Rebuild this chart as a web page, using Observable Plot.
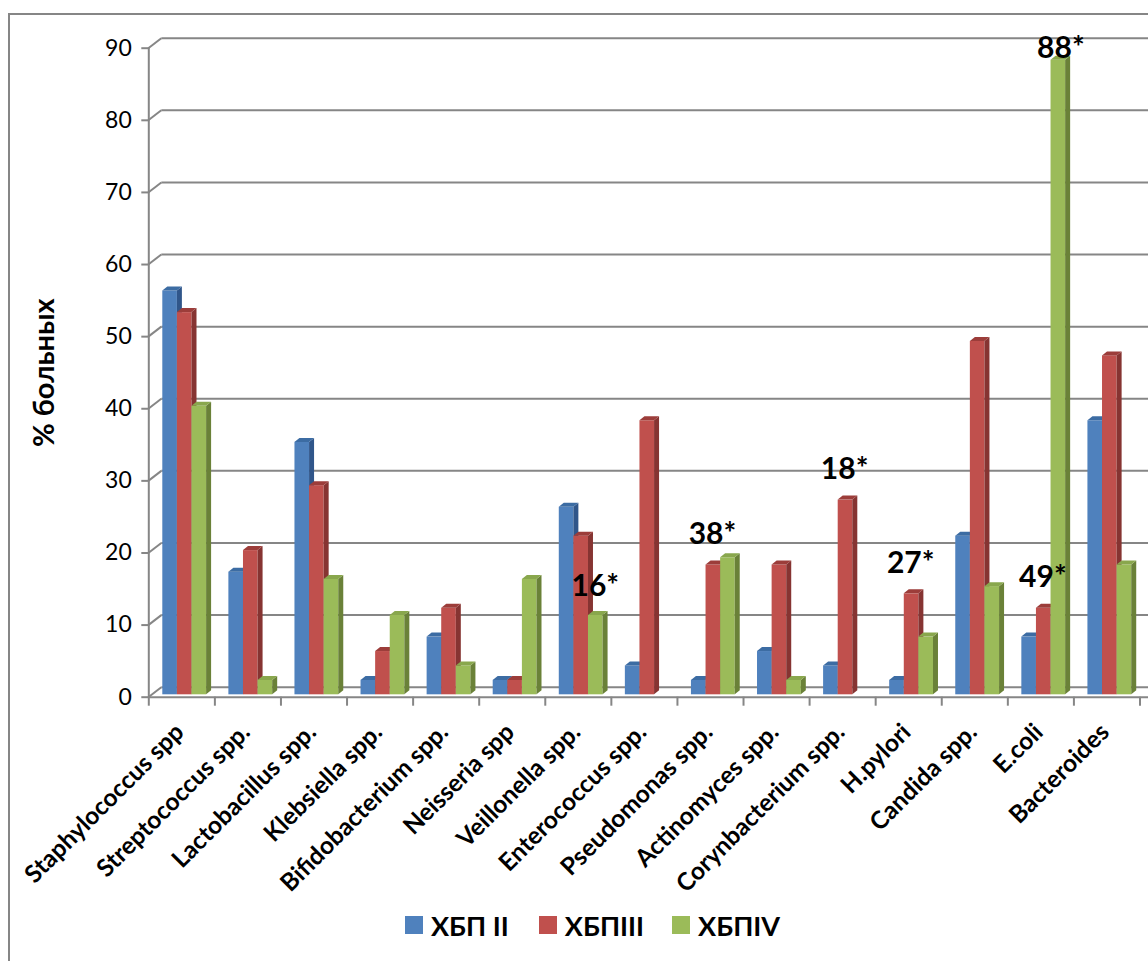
<!DOCTYPE html>
<html><head><meta charset="utf-8">
<script src="https://cdn.jsdelivr.net/npm/d3@7"></script>
<script src="https://cdn.jsdelivr.net/npm/@observablehq/plot@0.6"></script>
<style>
html,body{margin:0;padding:0;background:#fff;overflow:hidden}
#page{position:relative;width:1148px;height:961px;overflow:hidden}
#border{position:absolute;left:8px;top:13px;right:-10px;bottom:-10px;border:2px solid #868686}
#chart{position:absolute;left:0;top:0}
#chart svg{display:block;background:transparent}
#legend{position:absolute;left:405px;top:907px;display:flex;align-items:center;height:36px;font:bold 27px Lato,"Open Sans",sans-serif;color:#000}
#legend span.sw{display:inline-block;width:18px;height:18px;margin-right:8px}
#legend span.lb{display:inline-block}
</style></head><body>
<div id="page"><div id="border"></div><div id="chart"></div><div id="legend"></div></div>
<script>
const categories = ["Staphylococcus spp","Streptococcus spp.","Lactobacillus spp.","Klebsiella spp.","Bifidobacterium spp.","Neisseria spp","Veillonella spp.","Enterococcus spp.","Pseudomonas spp.","Actinomyces spp.","Corynbacterium spp.","H.pylori","Candida spp.","E.coli","Bacteroides"];
const seriesNames = ["ХБП II","ХБПIII","ХБПIV"];
const hbp2 = [56,17,35,2,8,2,26,4,2,6,4,2,22,8,38];
const hbp3 = [53,20,29,6,12,2,22,38,18,18,27,14,49,12,47];
const hbp4 = [40,2,16,11,4,16,11,null,19,2,null,8,15,88,18];
const yTicks = [0,10,20,30,40,50,60,70,80,90];
const seriesColors = ["#4F81BD","#C0504D","#9BBB59"];
const sideColors = ["#30568A","#863432","#6A8138"];
const topColors = ["#3C6CA3","#9C3D3A","#89A74D"];
const noteCategories = ["Veillonella spp.","Pseudomonas spp.","Corynbacterium spp.","H.pylori","E.coli","E.coli"];
const noteTexts = ["16*","38*","18*","27*","49*","88*"];
const noteLevels = [15.35,22.6,31.6,18.5,16.6,90];
const noteShifts = [17,2,2,2,2,20];

const grey = "#868686";
const wallX = 13, wallY = -10, band = 66.08, depthX = 5, depthY = -4;

function table(values){ return categories.map((c,i)=>({c, v:values[i]})).filter(d=>d.v!=null); }

function extrude(s){
  return (index, scales, values, dims, ctx, next)=>{
    const g = next(index, scales, values, dims, ctx);
    g.querySelectorAll("rect").forEach(r=>{
      const x=+r.getAttribute("x"), y=+r.getAttribute("y"), w=+r.getAttribute("width"), h=+r.getAttribute("height");
      const add=(pts,fill)=>{
        const p=document.createElementNS("http://www.w3.org/2000/svg","polygon");
        p.setAttribute("points",pts.map(q=>q.join(",")).join(" "));
        p.setAttribute("fill",fill);
        r.parentNode.appendChild(p);
      };
      add([[x+w,y],[x+w+depthX,y+depthY],[x+w+depthX,y+h+depthY],[x+w,y+h]],sideColors[s]);
      add([[x,y],[x+depthX,y+depthY],[x+w+depthX,y+depthY],[x+w,y]],topColors[s]);
    });
    return g;
  };
}

function slants(index, scales, values, dims, ctx, next){
  const g = next(index, scales, values, dims, ctx);
  const ns="http://www.w3.org/2000/svg";
  g.querySelectorAll("line").forEach(l=>{
    const y=+l.getAttribute("y1"), x=+l.getAttribute("x1");
    const s=document.createElementNS(ns,"line");
    s.setAttribute("x1",x-wallX); s.setAttribute("x2",x);
    s.setAttribute("y1",y-wallY); s.setAttribute("y2",y);
    l.parentNode.appendChild(s);
  });
  return g;
}

const seriesMark = (values,s)=>Plot.barY(table(values),{
  x:"c", y:"v", fill:seriesColors[s], dy:-2.4,
  insetLeft:14+s*14.6, insetRight:band-14-14.6*(s+1),
  render:extrude(s)
});

const noteMark = (i)=>Plot.text([i],{
  x:j=>noteCategories[j], y:j=>noteLevels[j], text:j=>noteTexts[j],
  dx:noteShifts[i], fontSize:30, fontWeight:"bold", fill:"#000", stroke:null
});

const chart = Plot.plot({
  width:1148, height:905,
  marginLeft:148.3, marginRight:0, marginTop:47.7, marginBottom:208.3,
  style:{fontFamily:'Lato,"Open Sans",sans-serif',background:"transparent",color:"#000"},
  x:{type:"band",domain:categories,range:[148.3,1139.5],padding:0,round:false,label:null},
  y:{domain:[0,90],range:[696.7,47.7],label:null},
  marks:[
    Plot.ruleY(yTicks,{stroke:grey,strokeWidth:2,dx:wallX,dy:wallY,render:slants}),
    Plot.ruleY([0],{stroke:grey,strokeWidth:2}),
    Plot.ruleX([categories[0]],{x:d=>d,dx:-band/2,y1:0,y2:90,stroke:grey,strokeWidth:2}),
    Plot.axisY({ticks:yTicks,tickSize:7,tickPadding:10,fontSize:23,label:null,stroke:grey,strokeWidth:2,color:"#000",tickFormat:d=>d,textStroke:null}),
    Plot.axisX({tickSize:9,tickPadding:0,dx:-band/2,tickFormat:()=>"",label:null,stroke:grey,strokeWidth:2}),
    Plot.axisX({ticks:[categories[categories.length-1]],tickSize:9,tickPadding:0,dx:band/2,tickFormat:()=>"",label:null,stroke:grey,strokeWidth:2}),
    Plot.axisX({tickSize:0,tickPadding:14,tickRotate:-45,fontSize:24.5,fontWeight:"bold",label:null,dx:-2,dy:17,lineWidth:30,fill:"#000"}),
    seriesMark(hbp2,0), seriesMark(hbp3,1), seriesMark(hbp4,2),
    ...noteTexts.map((_,i)=>noteMark(i)),
    Plot.text(["% больных"],{frameAnchor:"left",textAnchor:"middle",rotate:-90,dx:-104,fontSize:29,fontWeight:"bold",fill:"#000"})
  ]
});
document.getElementById("chart").appendChild(chart);

const legendGaps = [0,30,28];
const lg=document.getElementById("legend");
seriesNames.forEach((n,i)=>{
  const sw=document.createElement("span"); sw.className="sw"; sw.style.background=seriesColors[i]; sw.style.marginLeft=legendGaps[i]+"px";
  const lb=document.createElement("span"); lb.className="lb"; lb.textContent=n;
  lg.append(sw,lb);
});
</script>
</body></html>
